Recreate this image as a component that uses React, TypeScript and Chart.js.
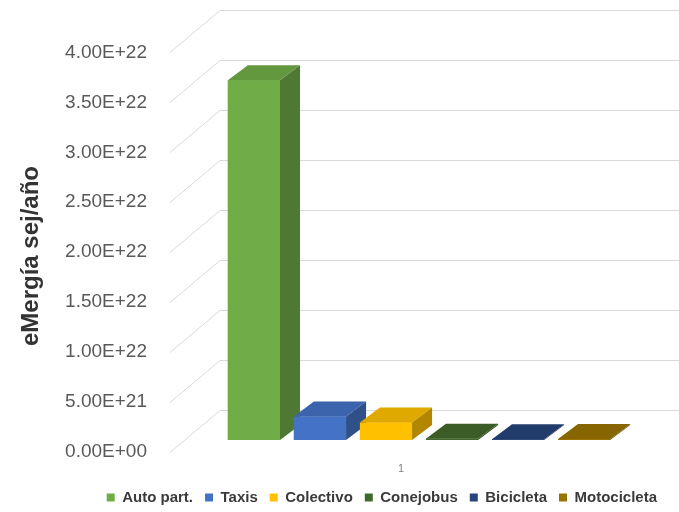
import React, { useEffect, useRef } from "react";
import { Chart, registerables } from "chart.js";

Chart.register(...registerables);

const categories = ["1"];
const seriesNames = ["Auto part.", "Taxis", "Colectivo", "Conejobus", "Bicicleta", "Motocicleta"];
const seriesValues = [3.6e22, 2.35e21, 1.75e21, 1.2e20, 8e19, 1.0e20];
const seriesColors = ["#70AD47", "#4472C4", "#FFC000", "#43682B", "#264478", "#997300"];
const yMin = 0;
const yMax = 4e22;
const yStep = 5e21;
const yAxisTitle = "eMergía sej/año";

function fmtExp(v: number): string {
  const [m, e] = v.toExponential(2).split("e");
  const sign = e.startsWith("-") ? "-" : "+";
  const digits = e.replace(/[+-]/, "").padStart(2, "0");
  return `${m}E${sign}${digits}`;
}

function shade(hex: string, f: number): string {
  const n = parseInt(hex.slice(1), 16);
  const r = Math.round(((n >> 16) & 255) * f);
  const g = Math.round(((n >> 8) & 255) * f);
  const b = Math.round((n & 255) * f);
  return `rgb(${r},${g},${b})`;
}

// oblique projection offsets (pixels)
const BAR_DX = 20;
const BAR_DY = -15;
const FRONT_DX = -14;
const FRONT_DY = 12;
const BACK_DX = 36;
const BACK_DY = -30;

const threeDPlugin = {
  id: "threeD",
  beforeDatasetsDraw(chart: any) {
    const { ctx, chartArea } = chart;
    const y = chart.scales.y;
    ctx.save();
    ctx.strokeStyle = "#d9d9d9";
    ctx.lineWidth = 1;
    y.ticks.forEach((t: any) => {
      const py = Math.round(y.getPixelForValue(t.value));
      ctx.beginPath();
      ctx.moveTo(chartArea.left + FRONT_DX, py + FRONT_DY + 0.5);
      ctx.lineTo(chartArea.left + BACK_DX, py + BACK_DY + 0.5);
      ctx.lineTo(chartArea.right + BACK_DX, py + BACK_DY + 0.5);
      ctx.stroke();
    });
    ctx.restore();
  },
  afterDatasetsDraw(chart: any) {
    const { ctx } = chart;
    ctx.save();
    for (let i = 0; i < chart.data.datasets.length; i++) {
      const meta = chart.getDatasetMeta(i);
      const el = meta.data[0];
      if (!el) continue;
      el.draw(ctx);
      const { x, y, base, width } = el.getProps(["x", "y", "base", "width"], true);
      const left = x - width / 2;
      const right = x + width / 2;
      const color = seriesColors[i];
      ctx.fillStyle = shade(color, 0.88);
      ctx.beginPath();
      ctx.moveTo(left, y);
      ctx.lineTo(left + BAR_DX, y + BAR_DY);
      ctx.lineTo(right + BAR_DX, y + BAR_DY);
      ctx.lineTo(right, y);
      ctx.closePath();
      ctx.fill();
      ctx.fillStyle = shade(color, 0.7);
      ctx.beginPath();
      ctx.moveTo(right, y);
      ctx.lineTo(right + BAR_DX, y + BAR_DY);
      ctx.lineTo(right + BAR_DX, base + BAR_DY);
      ctx.lineTo(right, base);
      ctx.closePath();
      ctx.fill();
    }
    ctx.restore();
  },
  afterDraw(chart: any) {
    const { ctx } = chart;
    ctx.save();
    ctx.translate(38, 256);
    ctx.rotate(-Math.PI / 2);
    ctx.font = 'bold 24px "Liberation Sans", Arial, sans-serif';
    ctx.fillStyle = "#333333";
    ctx.textAlign = "center";
    ctx.textBaseline = "alphabetic";
    ctx.fillText(yAxisTitle, 0, 0);
    ctx.restore();
  },
};

export default function App() {
  const ref = useRef<HTMLCanvasElement | null>(null);

  useEffect(() => {
    if (!ref.current) return;
    const chart = new Chart(ref.current, {
      type: "bar",
      data: {
        labels: categories,
        datasets: seriesNames.map((name, i) => ({
          label: name,
          data: [seriesValues[i]],
          backgroundColor: seriesColors[i],
          borderWidth: 0,
          categoryPercentage: 0.843,
          barPercentage: 0.79,
        })),
      },
      options: {
        responsive: false,
        animation: false,
        devicePixelRatio: 1,
        layout: { padding: { left: 0, right: 10, top: 39, bottom: -3 } },
        plugins: {
          tooltip: { enabled: false },
          legend: {
            position: "bottom",
            align: "end",
            labels: {
              boxWidth: 8,
              boxHeight: 8,
              padding: 12,
              color: "#3a3a3a",
              font: { family: '"Liberation Sans", Arial, sans-serif', size: 15, weight: "bold" },
            },
          },
        },
        scales: {
          x: {
            grid: { display: false },
            border: { display: false },
            ticks: {
              color: "#808080",
              font: { family: '"Liberation Sans", Arial, sans-serif', size: 11 },
              padding: 14,
              labelOffset: -18,
            },
            afterFit: (s: any) => {
              s.height = 38;
            },
          },
          y: {
            min: yMin,
            max: yMax,
            grid: { display: false },
            border: { display: false },
            ticks: {
              stepSize: yStep,
              color: "#595959",
              font: { family: '"Liberation Sans", Arial, sans-serif', size: 19 },
              padding: 29,
              labelOffset: 12,
              callback: (v: any) => fmtExp(Number(v)),
            },
            afterFit: (s: any) => {
              s.width = 184;
            },
          },
          yRight: {
            type: "linear",
            position: "right",
            display: true,
            grid: { display: false },
            border: { display: false },
            ticks: { display: false },
            afterFit: (s: any) => {
              s.width = 15;
            },
          },
        },
      },
      plugins: [threeDPlugin],
    } as any);
    return () => chart.destroy();
  }, []);

  return (
    <div style={{ position: "absolute", left: 0, top: 0, width: 679, height: 512, background: "#fff" }}>
      <canvas ref={ref} width={679} height={512} />
    </div>
  );
}
